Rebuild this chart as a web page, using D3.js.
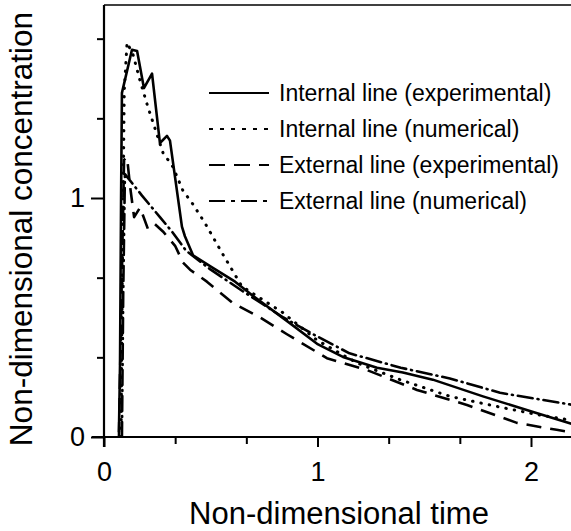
<!DOCTYPE html>
<html>
<head>
<meta charset="utf-8">
<script src="https://cdn.jsdelivr.net/npm/d3@7"></script>
<style>
  body { margin: 0; background: #fff; }
  text { font-family: "Liberation Sans", Arial, sans-serif; fill: #000; }
</style>
</head>
<body>
<div id="chart"></div>
<script>
// internal line, experimental (solid)
var intExpT = [0.07, 0.075, 0.08, 0.084, 0.131, 0.155, 0.187, 0.225, 0.262, 0.295, 0.309, 0.365, 0.379, 0.417, 0.506, 0.614, 0.684, 0.85, 0.998, 1.119, 1.279, 1.40, 1.54, 1.775, 2.01, 2.19];
var intExpC = [0.02, 0.3, 1.0, 1.44, 1.62, 1.615, 1.46, 1.52, 1.23, 1.26, 1.24, 0.88, 0.84, 0.76, 0.71, 0.65, 0.60, 0.49, 0.39, 0.335, 0.29, 0.27, 0.24, 0.17, 0.105, 0.055];
// internal line, numerical (dotted)
var intNumT = [0.08, 0.085, 0.095, 0.108, 0.136, 0.169, 0.206, 0.276, 0.323, 0.37, 0.412, 0.473, 0.553, 0.646, 0.838, 0.998, 1.185, 1.386, 1.62, 1.855, 2.04, 2.19];
var intNumC = [0.0, 0.6, 1.45, 1.65, 1.60, 1.49, 1.38, 1.19, 1.13, 1.03, 0.98, 0.895, 0.77, 0.63, 0.52, 0.405, 0.31, 0.24, 0.17, 0.125, 0.092, 0.07];
// external line, experimental (dashed)
var extExpT = [0.07, 0.08, 0.094, 0.108, 0.122, 0.141, 0.169, 0.206, 0.239, 0.276, 0.333, 0.37, 0.403, 0.482, 0.604, 0.731, 0.857, 1.044, 1.232, 1.466, 1.70, 1.934, 2.12, 2.19];
var extExpC = [0.0, 0.5, 1.16, 1.17, 1.05, 0.92, 0.96, 0.87, 0.89, 0.86, 0.80, 0.73, 0.70, 0.65, 0.56, 0.50, 0.43, 0.33, 0.28, 0.197, 0.134, 0.059, 0.03, 0.02];
// external line, numerical (dash-dot)
var extNumT = [0.084, 0.09, 0.098, 0.178, 0.262, 0.318, 0.384, 0.5, 0.65, 0.84, 1.0, 1.15, 1.39, 1.62, 1.855, 2.19];
var extNumC = [0.0, 0.6, 1.10, 1.01, 0.92, 0.86, 0.78, 0.70, 0.61, 0.50, 0.42, 0.35, 0.29, 0.245, 0.185, 0.135];

var seriesNames = ["Internal line (experimental)", "Internal line (numerical)", "External line (experimental)", "External line (numerical)"];

var width = 571, height = 531;
var margin = {left: 104, top: 5, right: 0, bottom: 94};
var plotW = width - margin.left - margin.right,
    plotH = height - margin.top - margin.bottom;

var svg = d3.select("#chart").append("svg")
    .attr("width", width)
    .attr("height", height);

var x = d3.scaleLinear().domain([0, plotW / 213.5]).range([0, plotW]);
var y = d3.scaleLinear().domain([0, plotH / 239]).range([plotH, 0]);

var g = svg.append("g")
    .attr("transform", "translate(" + margin.left + "," + margin.top + ")");

g.append("clipPath").attr("id", "clip")
    .append("rect").attr("width", plotW).attr("height", plotH);

// top frame line
g.append("line")
    .attr("x1", 0).attr("x2", plotW)
    .attr("y1", 0).attr("y2", 0)
    .attr("stroke", "#000").attr("stroke-width", 1.5);

var xTicks = d3.range(0, 7).map(function(i) { return i / 3; });
var yTicks = d3.range(0, 6).map(function(i) { return i / 3; });

function isMajor(v) { return Math.abs(v - Math.round(v)) < 1e-6; }

var xAxis = g.append("g")
    .attr("transform", "translate(0," + plotH + ")")
    .call(d3.axisBottom(x).tickValues(xTicks).tickSize(7)
        .tickFormat(function(d) { return isMajor(d) ? d3.format("d")(Math.round(d)) : ""; }));

var yAxis = g.append("g")
    .call(d3.axisLeft(y).tickValues(yTicks).tickSize(7)
        .tickFormat(function(d) { return isMajor(d) ? d3.format("d")(Math.round(d)) : ""; }));

[xAxis, yAxis].forEach(function(ax) {
  ax.select(".domain").remove();
  ax.selectAll(".tick line").attr("stroke", "#000").attr("stroke-width", 2);
  ax.selectAll(".tick text").style("font-size", "27px").style("font-family", "'Liberation Sans', Arial, sans-serif");
});
xAxis.selectAll(".tick line").filter(function(d) { return isMajor(d); }).attr("y2", 10);
yAxis.selectAll(".tick line").filter(function(d) { return isMajor(d); }).attr("x2", -13);
xAxis.selectAll(".tick text").attr("dy", "0.71em").attr("y", 25);
yAxis.selectAll(".tick text").attr("x", -19);

// axis lines
g.append("line").attr("x1", -12).attr("x2", plotW).attr("y1", plotH).attr("y2", plotH)
    .attr("stroke", "#000").attr("stroke-width", 2);
g.append("line").attr("x1", 0).attr("x2", 0).attr("y1", 0).attr("y2", plotH + 10)
    .attr("stroke", "#000").attr("stroke-width", 2.2);

var styles = [null, "0.5,8", "15,9", "15,5,1,5"];

var data = [
  d3.zip(intExpT, intExpC),
  d3.zip(intNumT, intNumC),
  d3.zip(extExpT, extExpC),
  d3.zip(extNumT, extNumC)
];

var line = d3.line()
    .x(function(d) { return x(d[0]); })
    .y(function(d) { return y(d[1]); });

var lines = g.append("g").attr("clip-path", "url(#clip)");
lines.selectAll(".series")
    .data(data)
    .enter().append("path")
    .attr("class", "series")
    .attr("d", line)
    .attr("fill", "none")
    .attr("stroke", "#000")
    .attr("stroke-width", function(d, i) { return i === 1 ? 3 : 2.6; })
    .attr("stroke-linejoin", "round")
    .attr("stroke-linecap", function(d, i) { return i === 1 || i === 3 ? "round" : "butt"; })
    .attr("stroke-dasharray", function(d, i) { return styles[i]; });

// legend
var legend = svg.append("g").attr("transform", "translate(209,93)");
var rows = legend.selectAll(".row")
    .data(seriesNames)
    .enter().append("g")
    .attr("transform", function(d, i) { return "translate(0," + (i * 36) + ")"; });
rows.append("line")
    .attr("x1", 0).attr("x2", 60).attr("y1", 0).attr("y2", 0)
    .attr("stroke", "#000").attr("stroke-width", 2)
    .attr("stroke-dasharray", function(d, i) {
      return i === 1 ? "4,7" : i === 2 ? "16,9" : i === 3 ? "16,6,4,6" : null;
    });
rows.append("text")
    .attr("x", 70).attr("dy", "0.35em")
    .style("font-size", "23px")
    .text(function(d) { return d; });

// axis titles
svg.append("text")
    .attr("x", 339).attr("y", 524)
    .attr("text-anchor", "middle")
    .style("font-size", "31px")
    .text("Non-dimensional time");

svg.append("text")
    .attr("transform", "translate(32,229) rotate(-90)")
    .attr("text-anchor", "middle")
    .style("font-size", "31.5px")
    .text("Non-dimensional concentration");
</script>
</body>
</html>
